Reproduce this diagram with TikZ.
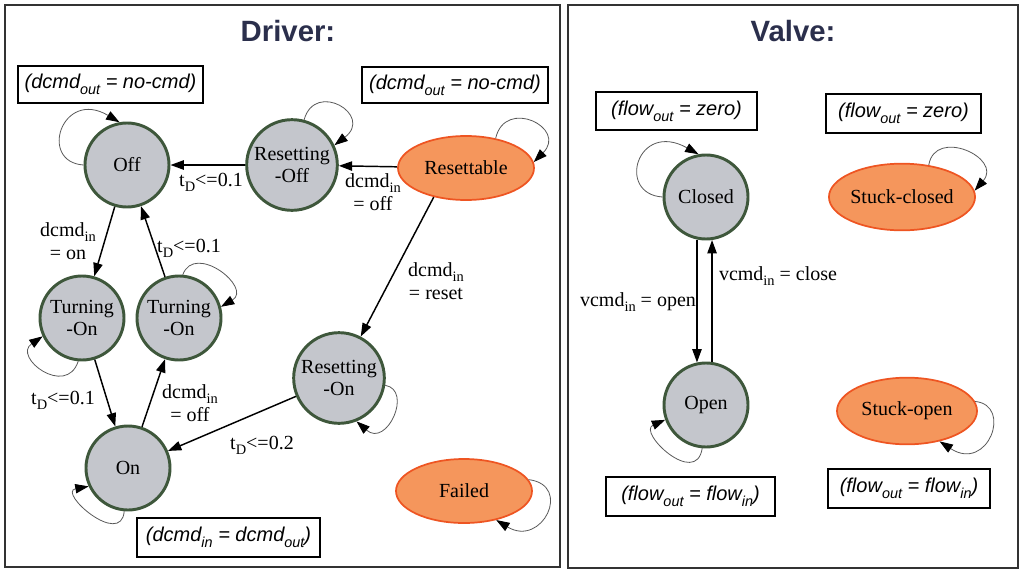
\documentclass[tikz,border=0pt]{standalone}
\usepackage{fontspec}
\setmainfont{Liberation Serif}
\newfontfamily\boxfont{Liberation Sans}
\usetikzlibrary{shapes.geometric,arrows.meta}
\definecolor{statefill}{HTML}{C4C6CC}
\definecolor{stateline}{HTML}{3E573B}
\definecolor{failfill}{HTML}{F5965C}
\definecolor{failline}{HTML}{EE5522}
\definecolor{titlecol}{HTML}{2B2F4C}
\newcommand{\sbs}[1]{\raisebox{-0.25em}{\scalebox{0.72}{#1}}}
\newcommand{\bsbs}[1]{\raisebox{-0.3em}{\scalebox{0.72}{#1}}}
\begin{document}
\begin{tikzpicture}[x=0.75pt,y=-0.75pt,
 state/.style={circle,fill=statefill,draw=stateline,line width=2.2pt,minimum size=63pt,inner sep=0pt,align=center,font=\fontsize{15}{17}\selectfont},
 bigstate/.style={state,minimum size=68pt},
 fault/.style={ellipse,fill=failfill,draw=failline,line width=1.3pt,minimum width=102pt,minimum height=48pt,inner sep=0pt,font=\fontsize{15}{17}\selectfont},
 edge/.style={line width=1.1pt,-{Triangle[length=10pt,width=7pt]}},
 selfloop/.style={line width=0.6pt,draw=black!65,-{Triangle[length=10pt,width=7pt,color=black]}},
 lbl/.style={font=\fontsize{15}{17}\selectfont,align=center,inner sep=0pt},
 note/.style={draw,line width=1.1pt,font=\boxfont\itshape\fontsize{15}{18}\selectfont,inner sep=0pt},
 panel/.style={draw=black!80,line width=1.5pt},
 title/.style={font=\boxfont\bfseries\fontsize{22}{26}\selectfont,text=titlecol}]
\useasboundingbox (0,0) rectangle (1020,571);
\draw[panel] (5,5) rectangle (560,567);
\draw[panel] (568,5) rectangle (1018,568);
\node[title] (t1) at (288,31) {Driver:};
\node[title] (t2) at (793,31) {Valve:};
% driver states
\node[state] (off) at (127,165) {Off};
\node[bigstate] (roff) at (292,165) {Resetting\\-Off};
\node[fault] (rst) at (466,168) {Resettable};
\node[state] (ton1) at (82,318) {Turning\\-On};
\node[state] (ton2) at (179,318) {Turning\\-On};
\node[bigstate] (ron) at (339,378) {Resetting\\-On};
\node[state] (on) at (128,468) {On};
\node[fault] (failed) at (464,491) {Failed};
% valve states
\node[state] (closed) at (706,197) {Closed};
\node[fault,minimum width=105pt,minimum height=50pt] (sc) at (902,197) {Stuck-closed};
\node[state] (open) at (706,405) {Open};
\node[fault,minimum width=105pt,minimum height=50pt] (so) at (907,411) {Stuck-open};
% boxes
\node[note,minimum width=139pt,minimum height=28pt] (b1) at (110.5,84.5) {(dcmd\bsbs{out} = no-cmd)};
\node[note,minimum width=139.5pt,minimum height=27pt] (b2) at (455,85) {(dcmd\bsbs{out} = no-cmd)};
\node[note,minimum width=137pt,minimum height=29pt] (b3) at (228.5,537.5) {(dcmd\bsbs{in} = dcmd\bsbs{out})};
\node[note,minimum width=121pt,minimum height=28.5pt] (r1) at (676.5,111) {(flow\bsbs{out} = zero)};
\node[note,minimum width=116pt,minimum height=29pt] (r2) at (903.5,113.5) {(flow\bsbs{out} = zero)};
\node[note,minimum width=127pt,minimum height=29pt] (r3) at (690.5,496.5) {(flow\bsbs{out} = flow\bsbs{in})};
\node[note,minimum width=121.5pt,minimum height=29pt] (r4) at (909,488.5) {(flow\bsbs{out} = flow\bsbs{in})};
% edges
\draw[edge] (roff) -- (off);
\draw[edge] (rst) -- (roff);
\draw[edge] (off) -- (ton1);
\draw[edge] (ton2) -- (off);
\draw[edge] (ton1) -- (on);
\draw[edge] (on) -- (ton2);
\draw[edge] (rst.222) -- (ron);
\draw[edge] (ron) -- (on);
\draw[edge] (closed.258) -- (open.102);
\draw[edge] (open.82) -- (closed.278);
% self loops
\draw[selfloop] (off.180) .. controls (38,162) and (62,88) .. (off.100);
\draw[selfloop] (roff.75) .. controls (315,80) and (374,115) .. (roff.25);
\draw[selfloop] (rst.45) .. controls (505,97) and (568,128) .. (rst.5);
\draw[selfloop] (ton2.85) .. controls (195,242) and (253,288) .. (ton2.15);
\draw[selfloop] (ton1.265) .. controls (66,398) and (12,357) .. (ton1.205);
\draw[selfloop] (on.265) .. controls (121,548) and (57,492) .. (on.205);
\draw[selfloop] (ron.351) .. controls (413,390) and (387,448) .. (ron.292);
\draw[selfloop] (failed.10) .. controls (573,485) and (542,548) .. (failed.318);
\draw[selfloop] (closed.180) .. controls (616,194) and (637,120) .. (closed.100);
\draw[selfloop] (sc.50) .. controls (935,127) and (1003,158) .. (sc.5);
\draw[selfloop] (open.265) .. controls (696,488) and (637,432) .. (open.200);
\draw[selfloop] (so.8) .. controls (1013,405) and (988,473) .. (so.317);
% labels
\node[lbl] (l1) at (211,182) {t\sbs{D}<=0.1};
\node[lbl] (l2) at (373,192) {dcmd\sbs{in}\\= off};
\node[lbl] (l3) at (68,241) {dcmd\sbs{in}\\= on};
\node[lbl] (l4) at (189,248) {t\sbs{D}<=0.1};
\node[lbl] (l5) at (436,281) {dcmd\sbs{in}\\= reset};
\node[lbl] (l6) at (63,400) {t\sbs{D}<=0.1};
\node[lbl] (l7) at (190,403) {dcmd\sbs{in}\\= off};
\node[lbl] (l8) at (262,445) {t\sbs{D}<=0.2};
\node[lbl] (l9) at (778,276) {vcmd\sbs{in} = close};
\node[lbl] (l10) at (638,302) {vcmd\sbs{in} = open};
\end{tikzpicture}
\end{document}
